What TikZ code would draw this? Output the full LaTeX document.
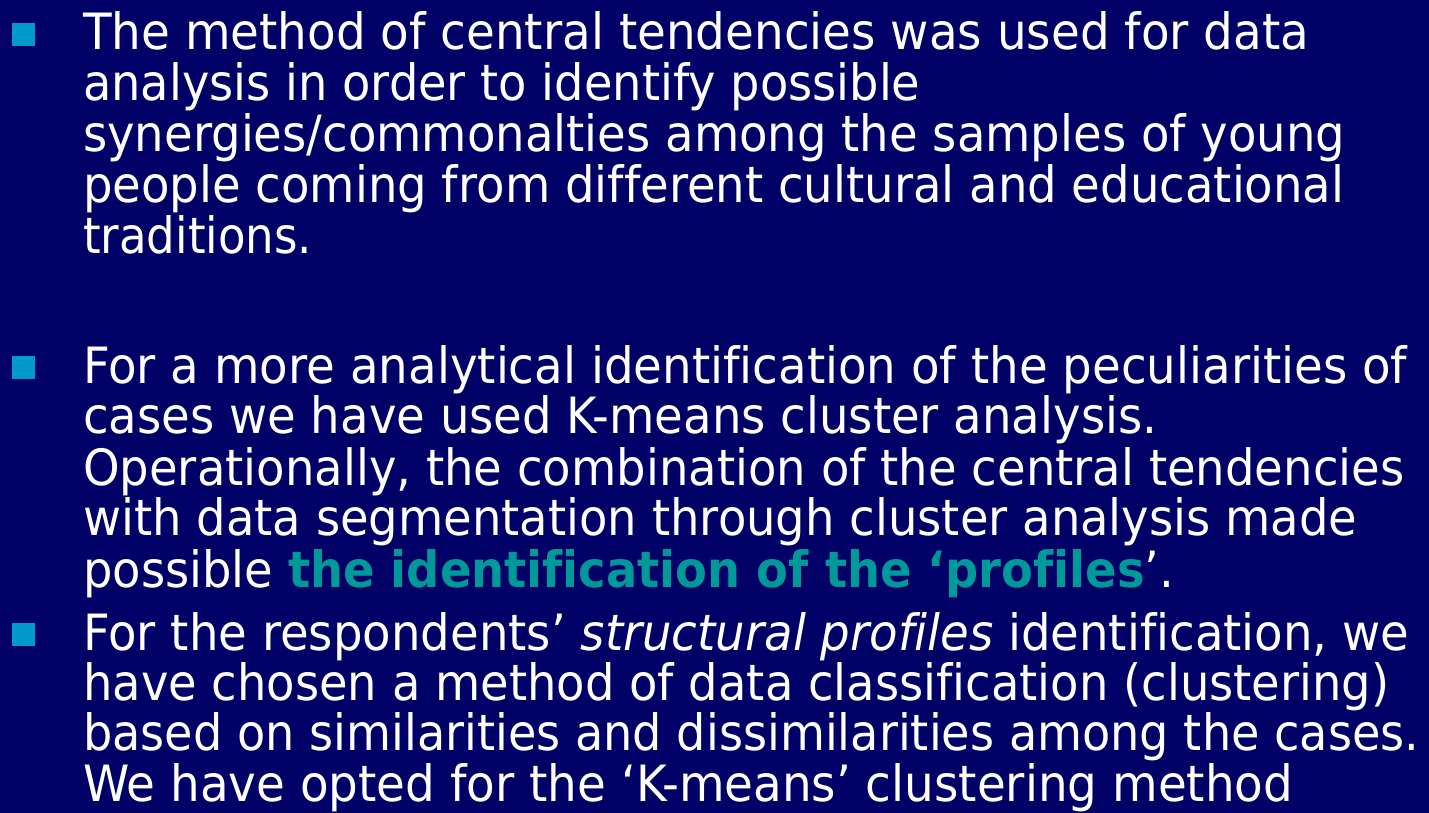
\documentclass[tikz,border=0pt]{standalone}
\usepackage{fontspec}
\setmainfont{DejaVu Sans}[Ligatures={NoCommon}]
\usepackage{graphicx}
\definecolor{slidebg}{HTML}{000066}
\definecolor{bulletblue}{HTML}{0099CC}
\definecolor{accent}{HTML}{009999}
% one text line, stretched to a given width
\newcommand{\slideline}[2]{\resizebox{#1}{\height}{#2}}
\begin{document}
\begin{tikzpicture}[x=1pt,y=-1pt,
  txt/.style={anchor=base west, inner sep=0pt, text=white,
              font=\fontsize{50}{50}\selectfont},
  bullet/.style={fill=bulletblue, draw=none, inner sep=0pt,
                 minimum size=23pt, anchor=north west}]
\fill[slidebg] (0,0) rectangle (1429,813);
\useasboundingbox (0,0) rectangle (1429,813);

% first bullet
\node[bullet] (b1) at (12,23) {};
\node[txt] (p1l1) at (83,50)  {\slideline{1226pt}{The method of central tendencies was used for data}};
\node[txt] (p1l2) at (83,101) {\slideline{837pt}{analysis in order to identify possible}};
\node[txt] (p1l3) at (83,152) {\slideline{1262pt}{synergies/commonalties among the samples of young}};
\node[txt] (p1l4) at (83,203) {\slideline{1261pt}{people coming from different cultural and educational}};
\node[txt] (p1l5) at (83,253) {\slideline{229pt}{traditions.}};

% second bullet
\node[bullet] (b2) at (12,356) {};
\node[txt] (p2l1) at (83,383) {\slideline{1324pt}{For a more analytical identification of the peculiarities of}};
\node[txt] (p2l2) at (83,433) {\slideline{1074pt}{cases we have used K-means cluster analysis.}};
\node[txt] (p2l3) at (83,485) {\slideline{1321pt}{Operationally, the combination of the central tendencies}};
\node[txt] (p2l4) at (83,535) {\slideline{1274pt}{with data segmentation through cluster analysis made}};
\node[txt] (p2l5) at (83,587) {\slideline{1091pt}{possible {\bfseries\color{accent}the identification of the ‘profiles}’.}};

% third bullet
\node[bullet] (b3) at (12,623) {};
\node[txt] (p3l1) at (83,650) {\slideline{1326pt}{For the respondents’ {\itshape structural profiles} identification, we}};
\node[txt] (p3l2) at (83,700) {\slideline{1306pt}{have chosen a method of data classification (clustering)}};
\node[txt] (p3l3) at (83,750) {\slideline{1336pt}{based on similarities and dissimilarities among the cases.}};
\node[txt] (p3l4) at (83,801) {\slideline{1210pt}{We have opted for the ‘K-means’ clustering method}};
\end{tikzpicture}
\end{document}
